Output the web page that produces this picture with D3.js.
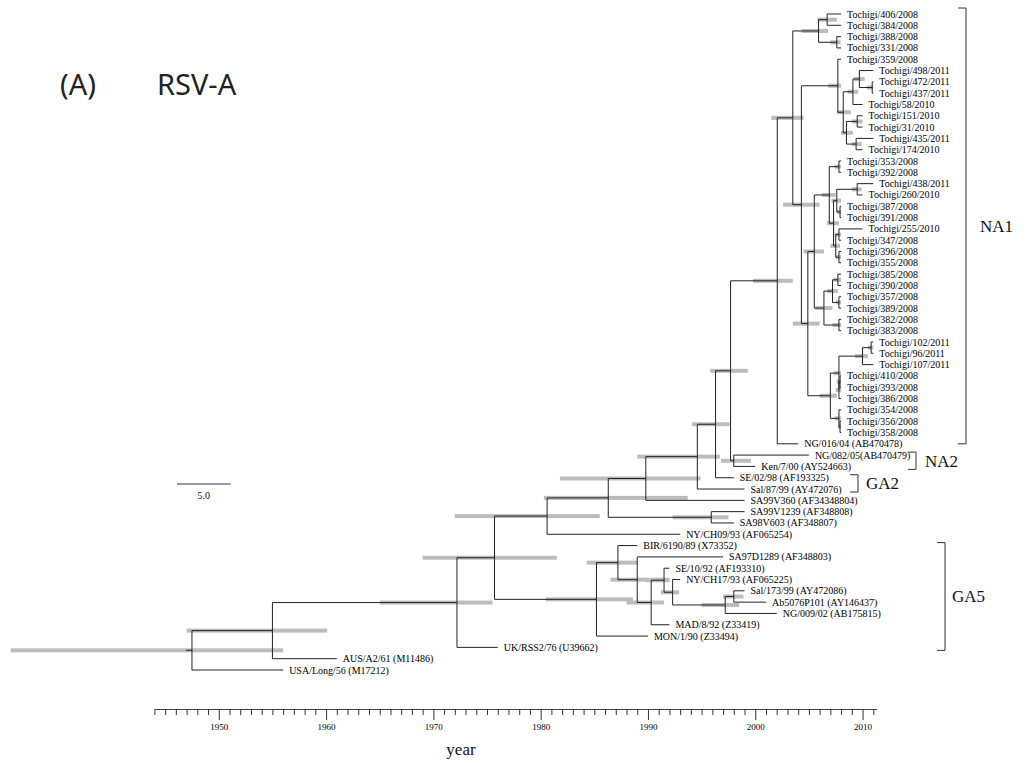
<!DOCTYPE html>
<html><head><meta charset="utf-8">
<script src="https://cdn.jsdelivr.net/npm/d3@7"></script>
<style>body{margin:0;background:#fff}</style>
</head><body><svg id="c" width="1034" height="763"></svg>
<script>
const tipNames = [
 "Tochigi/406/2008","Tochigi/384/2008","Tochigi/388/2008","Tochigi/331/2008","Tochigi/359/2008",
 "Tochigi/498/2011","Tochigi/472/2011","Tochigi/437/2011","Tochigi/58/2010","Tochigi/151/2010",
 "Tochigi/31/2010","Tochigi/435/2011","Tochigi/174/2010","Tochigi/353/2008","Tochigi/392/2008",
 "Tochigi/438/2011","Tochigi/260/2010","Tochigi/387/2008","Tochigi/391/2008","Tochigi/255/2010",
 "Tochigi/347/2008","Tochigi/396/2008","Tochigi/355/2008","Tochigi/385/2008","Tochigi/390/2008",
 "Tochigi/357/2008","Tochigi/389/2008","Tochigi/382/2008","Tochigi/383/2008","Tochigi/102/2011",
 "Tochigi/96/2011","Tochigi/107/2011","Tochigi/410/2008","Tochigi/393/2008","Tochigi/386/2008",
 "Tochigi/354/2008","Tochigi/356/2008","Tochigi/358/2008","NG/016/04 (AB470478)","NG/082/05(AB470479)",
 "Ken/7/00 (AY524663)","SE/02/98 (AF193325)","Sal/87/99 (AY472076)","SA99V360 (AF34348804)","SA99V1239 (AF348808)",
 "SA98V603 (AF348807)","NY/CH09/93  (AF065254)","BIR/6190/89 (X73352)","SA97D1289 (AF348803)","SE/10/92 (AF193310)",
 "NY/CH17/93  (AF065225)","Sal/173/99 (AY472086)","Ab5076P101 (AY146437)","NG/009/02 (AB175815)","MAD/8/92 (Z33419)",
 "MON/1/90 (Z33494)","UK/RSS2/76 (U39662)","AUS/A2/61 (M11486)","USA/Long/56 (M17212)"
];
const tipYears = [
 2008,2008,2008,2008,2008, 2011,2011,2011,2010,2010,
 2010,2011,2010,2008,2008, 2011,2010,2008,2008,2010,
 2008,2008,2008,2008,2008, 2008,2008,2008,2008,2011,
 2011,2011,2008,2008,2008, 2008,2008,2008,2004,2005,
 2000,1998,1999,1999,1999, 1998,1993,1989,1997,1992,
 1993,1999,2001,2002,1992, 1990,1976,1961,1956
];
// internal nodes: [id, median year, HPD low, HPD high, children]
const nodeRows = [
 ["root",1947.5,1930.6,1956.0,["n55",58]],
 ["n55",1955.0,1947.0,1960.1,["n72",57]],
 ["n72",1972.2,1965.0,1975.5,["n75",56]],
 ["n75",1975.7,1969.0,1981.5,["nNY","nGA5"]],
 ["nNY",1980.6,1972.0,1985.5,["n86",46]],
 ["n86",1986.3,1980.3,1993.7,["n90","nSA"]],
 ["n90",1989.8,1981.8,1994.9,["n94",43]],
 ["n94",1994.6,1989.0,1996.7,["n96",42]],
 ["n96",1996.3,1994.1,1997.6,["n97",41]],
 ["n97",1997.7,1995.8,1999.3,["nNA1","nNA2"]],
 ["nNA2",1998.0,1996.8,1999.6,[39,40]],
 ["nSA",1995.9,1992.3,1997.5,[44,45]],
 ["nNA1",2002.05,1999.8,2003.5,["n03",38]],
 ["n03",2003.5,2001.5,2004.5,["nAB","nX"]],
 ["nAB",2005.9,2004.3,2006.8,["nA","nB"]],
 ["nA",2006.7,2005.8,2007.6,[0,1]],
 ["nB",2007.6,2007.0,2007.95,[2,3]],
 ["nX",2004.3,2002.6,2006.0,["nC","nDE"]],
 ["nC",2007.7,2006.8,2008.0,[4,"nC1"]],
 ["nC1",2008.2,2007.6,2008.9,["nC2","nC3"]],
 ["nC2",2009.1,2008.6,2009.6,["nC4",8]],
 ["nC4",2009.7,2009.2,2010.2,[5,"nC5"]],
 ["nC5",2010.9,2010.4,2011.0,[6,7]],
 ["nC3",2008.5,2008.0,2009.1,["nC6","nC7"]],
 ["nC6",2009.5,2009.0,2010.0,[9,10]],
 ["nC7",2009.4,2009.0,2009.9,[11,12]],
 ["nDE",2004.9,2003.5,2006.0,["nD","nE"]],
 ["nD",2005.5,2004.5,2006.4,["nD1","nD2"]],
 ["nD1",2006.9,2006.2,2007.5,["nD3","nD4"]],
 ["nD3",2007.8,2007.4,2008.0,[13,14]],
 ["nD4",2007.3,2006.7,2007.8,["nD5","nD6"]],
 ["nD5",2007.6,2007.1,2008.0,["nD7","nD8"]],
 ["nD7",2009.5,2009.0,2009.9,[15,16]],
 ["nD8",2007.9,2007.6,2008.0,[17,18]],
 ["nD6",2007.5,2007.0,2007.9,["nD9","nD10"]],
 ["nD9",2007.8,2007.4,2008.0,[19,20]],
 ["nD10",2007.8,2007.5,2008.0,[21,22]],
 ["nD2",2006.4,2005.6,2007.2,["nD11","nD12"]],
 ["nD11",2007.2,2006.7,2007.7,["nD13","nD14"]],
 ["nD13",2007.7,2007.3,2008.0,[23,24]],
 ["nD14",2007.8,2007.5,2008.0,[25,26]],
 ["nD12",2007.8,2007.2,2008.0,[27,28]],
 ["nE",2007.0,2006.0,2007.6,["nE1","nE2"]],
 ["nE1",2007.8,2007.3,2008.0,["nE3","nE4"]],
 ["nE3",2010.0,2009.3,2010.5,["nE5",31]],
 ["nE5",2010.8,2010.5,2011.0,[29,30]],
 ["nE4",2007.8,2007.5,2008.0,["nE6",34]],
 ["nE6",2007.9,2007.6,2008.0,[32,33]],
 ["nE2",2007.8,2007.4,2008.0,[35,"nE7"]],
 ["nE7",2007.9,2007.7,2008.0,[36,37]],
 ["nGA5",1985.2,1980.5,1988.6,["nG1",55]],
 ["nG1",1987.2,1984.3,1989.0,[47,"nG2"]],
 ["nG2",1989.0,1986.5,1992.0,[48,"nG3"]],
 ["nG3",1990.3,1988.0,1991.5,["nG4",54]],
 ["nG4",1991.5,1989.8,1992.0,[49,"nG5"]],
 ["nG5",1992.3,1991.2,1992.9,[50,"nG6"]],
 ["nG6",1997.2,1995.0,1998.5,["nG7",53]],
 ["nG7",1998.0,1997.0,1998.9,[51,52]]
];
const axisYears = d3.range(1944, 2012);
const axisLabelYears = [1950,1960,1970,1980,1990,2000,2010];
const cladeNames = ["NA1","NA2","GA2","GA5"];
const cladeFirstTip = [0,39,41,47];
const cladeLastTip = [38,40,42,56];
const scaleBarYears = 5;

const svg = d3.select("#c");
const x = d3.scaleLinear().domain([1944, 2011.3]).range([154.4, 876.5]);
const y = d3.scaleLinear().domain([0, tipNames.length - 1]).range([14, 670]);

const nodeMap = new Map(nodeRows.map(r => [r[0], {id:r[0], year:r[1], lo:r[2], hi:r[3], kids:r[4]}]));
function pos(ref){
  if (typeof ref === "number") return {x:x(tipYears[ref]), y:y(ref)};
  const n = nodeMap.get(ref);
  if (n.py === undefined){
    const ks = n.kids.map(pos);
    n.py = (ks[0].y + ks[ks.length-1].y)/2;
    n.px = x(n.year);
  }
  return {x:n.px, y:n.py};
}
pos("root");

const gBars = svg.append("g");
const gLines = svg.append("g").attr("stroke","#222").attr("stroke-width",1).attr("fill","none");

nodeRows.forEach(r => {
  const n = nodeMap.get(r[0]);
  gBars.append("rect").attr("x", x(n.lo)).attr("y", n.py - 2).attr("width", x(n.hi)-x(n.lo)).attr("height", 4)
    .attr("fill","#bcbcbc");
});
nodeRows.forEach(r => {
  const n = nodeMap.get(r[0]);
  const ks = n.kids.map(pos);
  gLines.append("line").attr("x1",n.px).attr("x2",n.px).attr("y1",ks[0].y).attr("y2",ks[ks.length-1].y);
  ks.forEach(k => gLines.append("line").attr("x1",n.px).attr("x2",k.x).attr("y1",k.y).attr("y2",k.y));
});
// root stem
gLines.append("line").attr("x1", x(1947.5)-6).attr("x2", x(1947.5)).attr("y1", pos("root").y).attr("y2", pos("root").y);

svg.append("g").selectAll("text").data(tipNames).join("text")
  .attr("x",(d,i)=>x(tipYears[i])+6).attr("y",(d,i)=>y(i)+3.5)
  .attr("font-family","Liberation Serif, Times New Roman, serif").attr("font-size",10).attr("fill","#000")
  .text(d=>d);

// clade brackets
const bracketX = [966, 916, 858, 945];
const labelX = [980, 925, 866, 952];
cladeNames.forEach((c,i)=>{
  const y0 = y(cladeFirstTip[i]) - (i===0?6:3), y1 = y(cladeLastTip[i]) + (i===0?0:3);
  svg.append("path").attr("d",`M${bracketX[i]-8},${y0}H${bracketX[i]}V${y1}H${bracketX[i]-8}`)
    .attr("fill","none").attr("stroke","#333").attr("stroke-width",1);
  svg.append("text").attr("x",labelX[i]).attr("y",(y0+y1)/2+6).attr("font-family","Liberation Serif, serif")
    .attr("font-size",17).attr("fill","#111").text(c);
});

// axis
const ax = svg.append("g").attr("transform","translate(0,709)")
  .call(d3.axisBottom(x).tickValues(axisYears).tickSizeInner(6).tickSizeOuter(0).tickPadding(9)
    .tickFormat(d => axisLabelYears.includes(d) ? d : ""));
ax.select(".domain").attr("stroke","#444");
ax.selectAll(".tick line").attr("stroke","#333").attr("y2", d => axisLabelYears.includes(d) ? 11 : 6);
ax.selectAll(".tick text").attr("font-family","Liberation Serif, serif").attr("font-size",9).attr("fill","#000");
svg.append("text").attr("x",461).attr("y",755).attr("text-anchor","middle")
  .attr("font-family","Liberation Serif, serif").attr("font-size",17).attr("fill","#111").text("year");

// scale bar
const sbx = 177;
svg.append("line").attr("x1",sbx).attr("x2",sbx + x(1944+scaleBarYears)-x(1944)).attr("y1",484).attr("y2",484)
  .attr("stroke","#333");
svg.append("text").attr("x",sbx + (x(1944+scaleBarYears)-x(1944))/2).attr("y",499).attr("text-anchor","middle")
  .attr("font-family","Liberation Serif, serif").attr("font-size",10).attr("fill","#111").text("5.0");

// title
svg.append("text").attr("x",60).attr("y",95).attr("font-family","Noto Sans, sans-serif").attr("font-size",29).attr("fill","#222").text("(A)");
svg.append("text").attr("x",157).attr("y",95).attr("font-family","Noto Sans, sans-serif").attr("font-size",29).attr("fill","#222").text("RSV-A");
</script></body></html>
